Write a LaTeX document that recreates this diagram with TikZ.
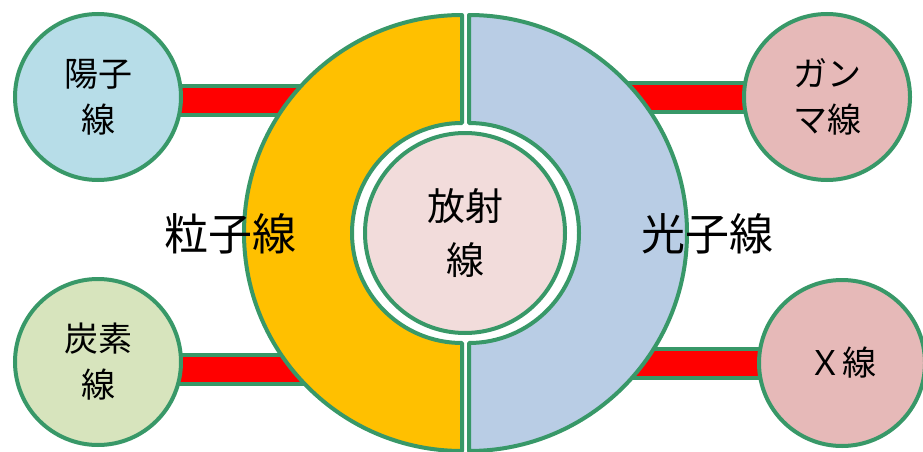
\documentclass[tikz,border=0pt]{standalone}
\usepackage{fontspec}
\setmainfont{Noto Sans CJK JP}
\usetikzlibrary{backgrounds,calc}

\definecolor{rimgreen}{RGB}{56,152,104}
\definecolor{particle}{RGB}{255,192,0}
\definecolor{photon}{RGB}{185,205,229}
\definecolor{hubpink}{RGB}{242,220,219}
\definecolor{protonblue}{RGB}{183,221,232}
\definecolor{carbongreen}{RGB}{215,228,189}
\definecolor{rayrose}{RGB}{230,185,184}

\begin{document}
\begin{tikzpicture}[
    x=1pt, y=-1pt,
    ray/.style={circle, draw=rimgreen, line width=4pt, minimum size=166pt, inner sep=0pt, align=center, font=\fontsize{34}{46}\selectfont},
    hub/.style={ray, minimum size=200pt, fill=hubpink, font=\fontsize{38}{54}\selectfont},
    half/.style={draw=rimgreen, line width=4pt, line join=round},
    group/.style={font=\fontsize{44}{50}\selectfont},
    bar/.style={draw=rimgreen, line width=4pt, double=red, double distance=25pt}
]
\useasboundingbox (0,0) rectangle (923,452);
\coordinate (core) at (465.5,233);
\coordinate (leftstop) at ($(core)+(-100,0)$);
\coordinate (rightstop) at ($(core)+(100,0)$);
% two halves of the ring
\draw[half, fill=particle] ($(core)+(-3.5,218)$) arc[start angle=90, end angle=270, radius=218] -- ++(0,108) arc[start angle=270, end angle=90, radius=110] -- cycle;
\draw[half, fill=photon] ($(core)+(3.5,-218)$) arc[start angle=-90, end angle=90, radius=218] -- ++(0,-108) arc[start angle=90, end angle=-90, radius=110] -- cycle;
\node[hub] (source) at (465,233) {放射\\線};
% outer circles
\node[ray, fill=protonblue] (proton) at (98,97) {陽子\\線};
\node[ray, fill=carbongreen] (carbon) at (98,362) {炭素\\線};
\node[ray, fill=rayrose] (gamma) at (827,97) {ガン\\マ線};
\node[ray, fill=rayrose] (xray) at (842,363) {Ｘ線};
\node[group] (particlelbl) at (230,234) {粒子線};
\node[group] (photonlbl) at (707,234) {光子線};
% bars behind
\coordinate (protonbar) at ($(proton)+(0,3)$);
\coordinate (carbonbar) at ($(carbon)+(0,7.5)$);
\coordinate (gammabar) at ($(gamma)+(0,0.5)$);
\coordinate (xraybar) at ($(xray)+(0,0.5)$);
\begin{scope}[on background layer]
\draw[bar] (protonbar) -- (protonbar -| leftstop);
\draw[bar] (carbonbar) -- (carbonbar -| leftstop);
\draw[bar] (gammabar) -- (gammabar -| rightstop);
\draw[bar] (xraybar) -- (xraybar -| rightstop);
\end{scope}
\end{tikzpicture}
\end{document}
